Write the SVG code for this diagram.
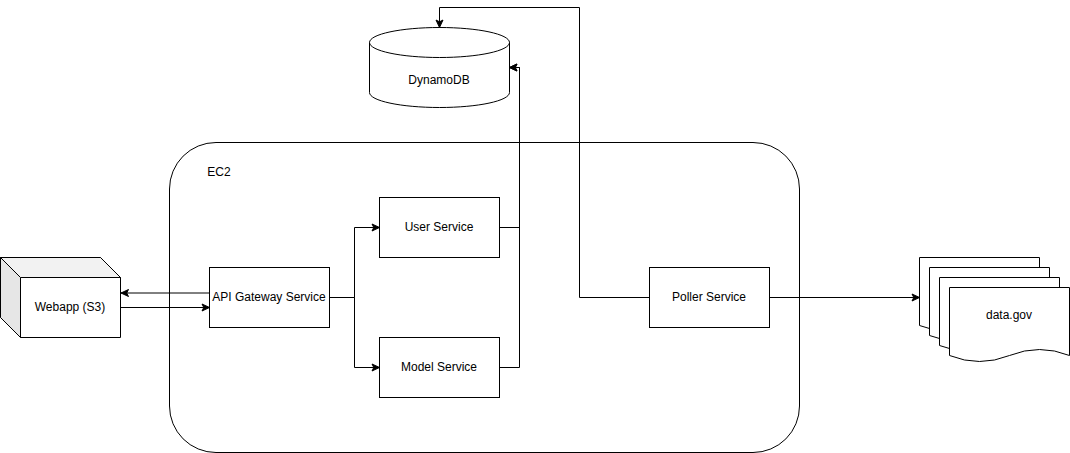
<svg xmlns="http://www.w3.org/2000/svg" width="1070" height="453" viewBox="0 0 1070 453">
<style>
.s{fill:#fff;stroke:#000;stroke-width:1}
.f{fill:none;stroke:#000;stroke-width:1}
.c{fill:none;stroke:#000;stroke-width:1;marker-end:url(#a)}
text{font-family:"Liberation Sans",Arial,sans-serif;font-size:12px;fill:#000;text-anchor:middle}
</style>
<defs>
<marker id="a" markerUnits="userSpaceOnUse" markerWidth="12" markerHeight="10" refX="9" refY="4.5" orient="auto" overflow="visible">
<path d="M1.5 1 L9 4.5 L1.5 8 L3.3 4.5 Z" fill="#000" stroke="#000"/>
</marker>
</defs>
<rect width="1070" height="453" fill="#fff"/>
<g id="ec2">
<rect class="s" x="169.5" y="142.5" width="630" height="310" rx="46.5" ry="46.5"/>
<text x="219" y="176">EC2</text>
</g>
<g id="webapp">
<path class="s" d="M0.5 257.5H100.5L120.5 277.5V337.5H20.5L0.5 317.5Z"/>
<path d="M0.5 257.5L20.5 277.5V337.5L0.5 317.5Z" fill="#e6e6e6" stroke="#000"/>
<path d="M0.5 257.5H100.5L120.5 277.5H20.5Z" fill="#f2f2f2" stroke="#000"/>
<text x="70" y="311">Webapp (S3)</text>
</g>
<g id="dynamodb">
<path class="s" d="M369.5 42.5C369.5 34.2 400.8 27.5 439.5 27.5S509.5 34.2 509.5 42.5V92.5C509.5 100.8 478.2 107.5 439.5 107.5S369.5 100.8 369.5 92.5Z"/>
<path class="f" d="M369.5 42.5C369.5 50.8 400.8 57.5 439.5 57.5S509.5 50.8 509.5 42.5"/>
<text x="439" y="84">DynamoDB</text>
</g>
<g id="api-gateway">
<rect class="s" x="209.5" y="267.5" width="120" height="60"/>
<text x="269" y="301">API Gateway Service</text>
</g>
<g id="user-service">
<rect class="s" x="379.5" y="197.5" width="120" height="60"/>
<text x="439" y="231">User Service</text>
</g>
<g id="model-service">
<rect class="s" x="379.5" y="337.5" width="120" height="60"/>
<text x="439" y="371">Model Service</text>
</g>
<g id="poller-service">
<rect class="s" x="649.5" y="267.5" width="120" height="60"/>
<text x="709" y="301">Poller Service</text>
</g>
<g id="data-gov">
<path class="s" d="M919.5 257.5H1039.5V325.5Q1009.5 313.5 979.5 325.5Q949.5 337.5 919.5 325.5Z"/>
<path class="s" d="M929.5 267.5H1049.5V335.5Q1019.5 323.5 989.5 335.5Q959.5 347.5 929.5 335.5Z"/>
<path class="s" d="M939.5 277.5H1059.5V345.5Q1029.5 333.5 999.5 345.5Q969.5 357.5 939.5 345.5Z"/>
<path class="s" d="M949.5 287.5H1069.5V355.5Q1039.5 343.5 1009.5 355.5Q979.5 367.5 949.5 355.5Z"/>
<text x="1009" y="319">data.gov</text>
</g>
<g id="connectors">
<path class="c" d="M209.5 293H121"/>
<path class="c" d="M120.5 307.5H209.5"/>
<path class="c" d="M329.5 297.5H354.5V227.5H379.5"/>
<path class="c" d="M329.5 297.5H354.5V367.5H379.5"/>
<path class="c" d="M499.5 227.5H519.5V67.5H509.5"/>
<path class="c" d="M499.5 367.5H519.5V67.5H509.5"/>
<path class="c" d="M649.5 297.5H579.5V7.5H439.5V27.5"/>
<path class="c" d="M769.5 297.5H919.5"/>
</g>
</svg>
